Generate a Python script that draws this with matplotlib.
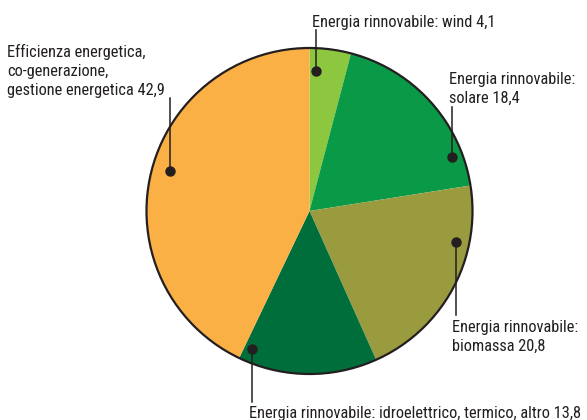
import numpy as np
import matplotlib.pyplot as plt
from matplotlib.patches import Circle

# Dati (percentuali)
categorie = ["wind", "solare", "biomassa", "idro", "efficienza"]
valori = [4.1, 18.4, 20.8, 13.8, 42.9]
etichette = [
    "Energia rinnovabile: wind 4,1",
    "Energia rinnovabile:\nsolare 18,4",
    "Energia rinnovabile:\nbiomassa 20,8",
    "Energia rinnovabile: idroelettrico, termico, altro 13,8",
    "Efficienza energetica,\nco-generazione,\ngestione energetica 42,9",
]

colori = ["#8dc63f", "#0a9a47", "#9a9b3f", "#006e3b", "#fbb045"]

# layout (pixel)
cx, cy, R = 309.5, 211, 163
frac_ang = [0.18, 0.82, 0.28, 0.94, 0.52]   # posizione del punto nella fetta
frac_rad = [0.86, 0.935, 0.92, 0.92, 0.89]
testo_xy = [(312, 27), (449, 103), (452, 351), (249, 418), (7, 95)]
leader_y = [30, 107, 315, 402, 98]

plt.rcParams['font.family'] = ['Roboto Condensed', 'DejaVu Sans']

fig = plt.figure(figsize=(5.87, 4.2), dpi=100)
ax = fig.add_axes([0, 0, 1, 1])

ax.pie(valori, colors=colori, startangle=-90, counterclock=True,
       center=(cx, cy), radius=R, wedgeprops=dict(linewidth=0))
ax.add_patch(Circle((cx, cy), R, fill=False, ec='#231f20', lw=1.6))

tot = sum(valori)
cum = np.cumsum([0] + valori)
for i in range(len(valori)):
    gradi = (cum[i] + frac_ang[i] * valori[i]) / tot * 360
    th = np.deg2rad(-90 + gradi)
    px = cx + frac_rad[i] * R * np.cos(th)
    py = cy + frac_rad[i] * R * np.sin(th)
    ax.plot([px, px], [py, leader_y[i]], color='#231f20', lw=1.1)
    ax.plot(px, py, 'o', color='#231f20', ms=6.5)
    tx, ty = testo_xy[i]
    ax.text(tx, ty, etichette[i], ha='left', va='baseline', fontsize=11.8,
            color='#231f20', linespacing=1.32)

ax.set_xlim(0, 587)
ax.set_ylim(420, 0)
ax.set_aspect('equal')
ax.axis('off')

fig.savefig('out.png', dpi=100)
